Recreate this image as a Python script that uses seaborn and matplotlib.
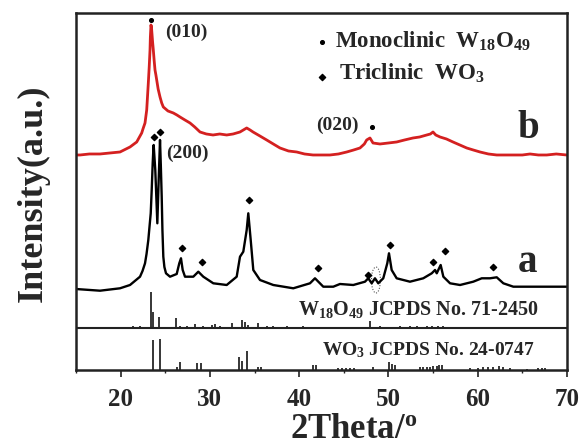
import pandas as pd
import seaborn as sns
import matplotlib.pyplot as plt
from matplotlib.patches import Ellipse

# ---- sample b (red) ----
b_theta = [15.0, 15.45, 16.5, 17.69, 18.8, 19.93, 21.05, 21.8, 22.36, 22.5,
           22.73, 22.92, 23.0, 23.1, 23.2, 23.29, 23.33, 23.4, 23.46, 23.52,
           23.58, 23.66, 23.75, 23.85, 23.95, 24.04, 24.2, 24.41, 24.6, 24.78,
           25.3, 25.9, 26.3, 26.65, 27.2, 27.77, 28.3, 28.89, 29.6, 30.35,
           31.1, 31.88, 32.6, 33.37, 34.12, 34.5, 34.83, 35.6, 36.36, 37.1,
           37.85, 38.8, 39.72, 40.6, 41.55, 42.5, 43.45, 44.4, 45.33, 46.1,
           46.81, 47.3, 47.56, 47.93, 48.27, 49.05, 50.0, 50.92, 51.8, 52.75,
           53.5, 54.29, 54.7, 54.99, 55.3, 55.78, 56.5, 57.23, 58.0, 58.77,
           59.5, 60.26, 61.2, 62.13, 63.0, 63.95, 65.0, 65.86, 66.8, 67.73,
           68.8, 69.97]
b_int = [215, 215, 216, 216, 217, 218, 223, 228, 237, 241,
         247, 260, 272, 287, 303, 320, 333, 345, 342, 335,
         328, 320, 310, 300, 295, 290, 281, 273, 267, 263,
         259, 257, 255, 253, 250, 247, 243, 238, 236, 235,
         236, 235, 236, 238, 242, 240, 238, 234, 230, 226,
         222, 219, 218, 216, 215, 215, 215, 216, 218, 220,
         222, 226, 230, 232, 227, 226, 227, 228, 230, 232,
         233, 235, 236, 238, 235, 233, 231, 228, 225, 222,
         220, 218, 216, 215, 215, 215, 215, 216, 215, 215,
         216, 215]

# ---- sample a (black) ----
a_theta = [15.0, 15.45, 17.69, 19.93, 21.05, 22.17, 22.45, 22.73, 22.9, 23.1,
           23.2, 23.37, 23.48, 23.59, 23.65, 23.7, 23.88, 24.11, 24.26, 24.41,
           24.5, 24.6, 24.68, 24.78, 24.9, 25.08, 25.53, 26.28, 26.57, 26.76,
           26.95, 27.21, 28.14, 28.7, 29.26, 30.38, 31.88, 33.0, 33.37, 33.74,
           34.12, 34.3, 34.57, 34.86, 35.61, 37.1, 39.34, 41.21, 41.77, 42.7,
           43.45, 43.82, 44.57, 46.06, 47.37, 47.74, 48.12, 48.49, 48.86, 49.42,
           49.87, 50.06, 50.36, 50.92, 52.41, 53.9, 54.85, 55.22, 55.41, 55.85,
           56.15, 56.9, 58.02, 59.5, 60.45, 61.38, 62.13, 62.87, 63.99, 66.23,
           69.97]
a_int = [81, 80.7, 79.3, 81.7, 85, 93.3, 99, 106.7, 116, 130,
         140, 156.7, 180, 206.7, 218, 225, 200, 146.7, 190, 230,
         205, 173.3, 140, 113.3, 103, 96.7, 93.3, 96, 106.7, 111.7,
         100, 93.3, 93.3, 98.3, 93.3, 86.7, 85, 93.3, 113.3, 118.3,
         140, 156.7, 130, 100, 90, 85, 81.7, 86.7, 91.7, 83.3,
         83.3, 83.3, 86, 85, 88.3, 91.7, 86.7, 91.7, 86.7, 91.7,
         106.7, 116.7, 100, 91.7, 88.3, 91.7, 96.7, 100, 96.7, 105,
         93.3, 86.7, 85, 88.3, 91.7, 91.7, 92.7, 86.7, 83.3, 83.3,
         83.3]

# ---- reference patterns (stick positions / heights) ----
w18o49_base = 42
w18o49_pos = [16.94, 19.18, 19.74, 21.42, 22.17, 23.37, 23.66, 24.33, 26.17, 26.65,
              27.4, 28.33, 29.26, 30.2, 30.57, 31.13, 32.44, 33.56, 33.93, 34.3,
              35.35, 36.36, 37.1, 38.6, 40.46, 42.33, 45.32, 47.93, 49.05, 51.3,
              52.4, 53.17, 54.29, 54.85, 55.59, 56.15]
w18o49_h = [1, 1, 1, 1.5, 1.5, 36, 16, 11, 10, 2,
            1.5, 4, 2, 3, 4, 2, 5, 8, 6, 3,
            5, 2, 1.5, 1.5, 2, 1, 1, 7, 1.5, 2,
            2, 1.5, 2, 2, 2, 1.5]

wo3_base = 0
wo3_pos = [23.59, 24.41, 26.28, 26.65, 28.59, 28.97, 33.22, 33.6, 34.19, 35.42,
           35.72, 41.51, 41.88, 44.39, 44.76, 45.25, 45.69, 46.14, 48.31, 50.1,
           50.36, 50.73, 53.53, 53.9, 54.29, 54.66, 55.03, 55.41, 55.7, 55.96,
           59.14, 60.07, 60.63, 61.19, 61.75, 62.42, 62.8, 63.62, 65.49, 66.79,
           67.17, 67.54]
wo3_h = [30, 30.7, 3, 8, 7, 7, 13, 9, 19, 3.5,
         3.5, 5, 5, 2, 2, 2, 2.5, 2, 3, 8,
         6, 5, 3, 3, 3, 3, 4, 4, 5, 5,
         2, 2, 3, 3, 3, 4, 3, 2, 1.5, 2,
         2.5, 2]

# ---- phase markers ----
mono_theta = [23.4, 48.12]
mono_int = [350, 243]
tri_theta = [23.74, 24.41, 26.84, 29.15, 34.38, 42.14, 47.68, 50.17, 55.02, 56.33, 61.75]
tri_int = [233, 238, 122, 108, 170, 102, 95, 125, 108, 119, 103]

sns.set_theme(style="white")
plt.rcParams["font.family"] = ["Liberation Serif", "DejaVu Serif"]
plt.rcParams["font.weight"] = "bold"
plt.rcParams["mathtext.fontset"] = "custom"
plt.rcParams["mathtext.rm"] = "Liberation Serif:bold"
plt.rcParams["mathtext.it"] = "Liberation Serif:bold:italic"
plt.rcParams["mathtext.bf"] = "Liberation Serif:bold"

fig = plt.figure(figsize=(5.82, 4.46), dpi=100)
ax = fig.add_axes([0.1306, 0.1704, 0.8436, 0.8005])

df_b = pd.DataFrame({"theta": b_theta, "intensity": b_int})
df_a = pd.DataFrame({"theta": a_theta, "intensity": a_int})
sns.lineplot(data=df_b, x="theta", y="intensity", color="#d42020", lw=2.0, ax=ax)
sns.lineplot(data=df_a, x="theta", y="intensity", color="black", lw=1.7, ax=ax)

ax.vlines(w18o49_pos, w18o49_base, [w18o49_base + h for h in w18o49_h], color="black", lw=1.1)
ax.vlines(wo3_pos, wo3_base, [wo3_base + h for h in wo3_h], color="black", lw=1.1)
ax.axhline(w18o49_base, color="#222222", lw=1.5)

ax.scatter(mono_theta, mono_int, s=7, color="black", marker="o", zorder=5)
ax.scatter(tri_theta, tri_int, s=10, color="black", marker="D", zorder=5)

ax.add_patch(Ellipse((48.6, 90), 1.0, 26, fill=False, ls=(0, (1, 1.5)), lw=0.8, color="#555555"))

# annotations
ax.text(24.97, 338, "(010)", fontsize=14, va="center")
ax.text(41.88, 245, "(020)", fontsize=14, va="center")
ax.text(25.08, 217, "(200)", fontsize=14, va="center")
ax.text(64.4, 232, "b", fontsize=28, va="baseline")
ax.text(64.5, 98, "a", fontsize=28, va="baseline")

ax.scatter([42.52], [328], s=7, color="black", marker="o")
ax.scatter([42.52], [293], s=10, color="black", marker="D")
ax.text(44.0, 322, "Monoclinic  W$_{18}$O$_{49}$", fontsize=16.5, va="baseline")
ax.text(44.46, 290, "Triclinic  WO$_3$", fontsize=16.5, va="baseline")
ax.text(39.87, 55, "W$_{18}$O$_{49}$ JCPDS No. 71-2450", fontsize=14.5, va="baseline")
ax.text(42.56, 15, "WO$_3$ JCPDS No. 24-0747", fontsize=14, va="baseline")

ax.set_xlim(15, 70)
ax.set_ylim(0, 357)
ax.set_xticks([20, 30, 40, 50, 60, 70])
ax.set_xticks([15, 25, 35, 45, 55, 65], minor=True)
ax.set_yticks([])
ax.tick_params(axis="x", which="major", direction="out", length=5, width=1.2,
               labelsize=18, pad=8, bottom=True, color="#222222")
ax.tick_params(axis="x", which="minor", direction="out", length=2.5, width=1.0,
               bottom=True, color="#222222")
for lbl in ax.get_xticklabels():
    lbl.set_fontweight("bold")

for sp in ax.spines.values():
    sp.set_linewidth(1.8)
    sp.set_color("#222222")

ax.set_xlabel("2Theta/$^{\\mathrm{o}}$", fontsize=25, fontweight="bold")
ax.set_ylabel("Intensity(a.u.)", fontsize=26, fontweight="bold")
ax.xaxis.set_label_coords(0.566, -0.12)
ax.yaxis.set_label_coords(-0.053, 0.496)

fig.savefig("out.png", dpi=100)
